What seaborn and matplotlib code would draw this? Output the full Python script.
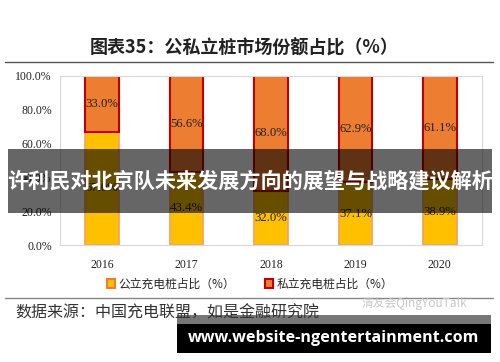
import matplotlib
matplotlib.use("Agg")
import matplotlib.pyplot as plt
import matplotlib.patches as mpatches
from matplotlib.lines import Line2D
import pandas as pd
import seaborn as sns

years = ["2016", "2017", "2018", "2019", "2020"]
public_share = [67.0, 43.4, 32.0, 37.1, 38.9]
private_share = [33.0, 56.6, 68.0, 62.9, 61.1]

title = "图表35：公私立桩市场份额占比（%）"
legend_labels = ["公立充电桩占比（%）", "私立充电桩占比（%）"]
source = "数据来源：中国充电联盟，如是金融研究院"
banner = "许利民对北京队未来发展方向的展望与战略建议解析"
site = "www.website-ngentertainment.com"

sns.set_theme(style="white")
plt.rcParams["font.family"] = ["Noto Sans CJK SC", "DejaVu Sans"]

yellow = "#FFC000"
orange = "#ED7D31"

df = pd.DataFrame({"year": years, "public": public_share, "private": private_share})

fig = plt.figure(figsize=(5, 3.62), dpi=100)
W, H = 500, 362
ax = fig.add_axes([60 / W, 1 - 245 / H, 422 / W, 169 / H])

sns.barplot(data=df, x="year", y="public", color=yellow, saturation=1,
            width=0.4, edgecolor="#F4A460", linewidth=1.3, ax=ax)
sns.barplot(data=df, x="year", y="private", color=orange, saturation=1,
            width=0.4, edgecolor="#C00000", linewidth=1.5, ax=ax,
            bottom=df["public"].to_numpy())

num_font = {"family": ["Liberation Serif", "Noto Sans CJK SC"], "size": 9.2}
for i, (p, q) in enumerate(zip(public_share, private_share)):
    ax.text(i, p / 2, f"{p:.1f}%", ha="center", va="center", fontdict=num_font, color="#222222")
    ax.text(i, p + q / 2, f"{q:.1f}%", ha="center", va="center", fontdict=num_font, color="#222222")

ax.set_ylim(0, 100)
ax.set_xlim(-0.5, 4.5)
ax.set_yticks(range(0, 101, 20))
ax.set_yticklabels([f"{v:.1f}%" for v in range(0, 101, 20)])
ax.set_xlabel("")
ax.set_ylabel("")
for lab in ax.get_xticklabels() + ax.get_yticklabels():
    lab.set_family(["Liberation Serif"])
    lab.set_fontsize(8.5)
    lab.set_color("#222222")
ax.tick_params(axis="both", length=0, pad=6)
ax.tick_params(axis="x", pad=10)
for s in ax.spines.values():
    s.set_color("#D9D9D9")
    s.set_linewidth(0.8)

# title and rules
fig.text(244 / W, 1 - 48 / H, title, ha="center", va="center", fontsize=13, fontweight="bold", color="#222222")
fig.add_artist(Line2D([5 / W, 493 / W], [1 - 62 / H] * 2, color="#555555", lw=1))
fig.add_artist(Line2D([5 / W, 493 / W], [1 - 298 / H] * 2, color="#888888", lw=1))

# legend
handles = [mpatches.Patch(facecolor=yellow, edgecolor=orange, linewidth=1.5),
           mpatches.Patch(facecolor=orange, edgecolor="#C00000", linewidth=1.5)]
fig.legend(handles, legend_labels, loc="center", bbox_to_anchor=(250 / W, 1 - 284 / H),
           ncol=2, frameon=False, fontsize=8.5, handlelength=0.7, handleheight=0.7,
           handletextpad=0.3, columnspacing=2.5)

# source and watermark
fig.text(15 / W, 1 - 313 / H, source, ha="left", va="center", fontsize=11.5, color="#333333")
fig.text(362 / W, 1 - 304 / H, "清友会QingYouTalk", ha="left", va="center", fontsize=8.5, color="#C8C8C8")

# overlay banners
fig.add_artist(mpatches.Rectangle((8 / W, 1 - 213 / H), 484 / W, 64 / H, transform=fig.transFigure,
                                  facecolor="black", alpha=0.6, edgecolor="none"))
fig.text(250 / W, 1 - 181 / H, banner, ha="center", va="center", fontsize=15.2, fontweight="bold", color="white")

fig.add_artist(mpatches.Rectangle((177 / W, 1 - 324 / H), 314 / W, 9 / H, transform=fig.transFigure,
                                  facecolor="#555555", alpha=0.8, edgecolor="none"))
fig.add_artist(mpatches.Rectangle((177 / W, 1 - 353 / H), 314 / W, 29 / H, transform=fig.transFigure,
                                  facecolor="black", edgecolor="none"))
fig.text(334 / W, 1 - 338 / H, site, ha="center", va="center", fontsize=11.6, fontweight="bold",
         color="white", family=["Open Sans", "DejaVu Sans"])

fig.savefig("out.png", dpi=100)
